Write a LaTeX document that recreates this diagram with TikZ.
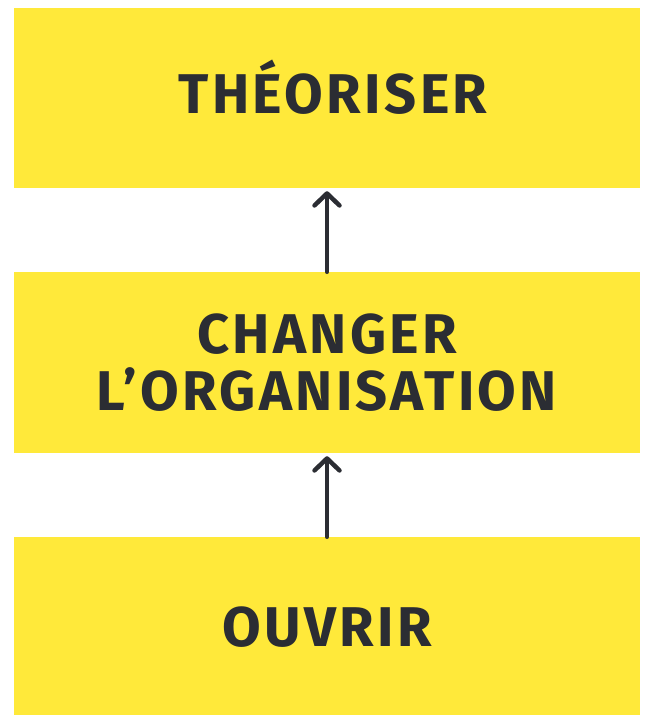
\documentclass[tikz,border=0pt]{standalone}
\usepackage{fontspec}
\setmainfont[LetterSpace=6]{Fira Sans}
\usepackage{tikz}
\usetikzlibrary{arrows.meta}
\definecolor{boxyellow}{HTML}{FFE93A}
\definecolor{inkdark}{HTML}{2B2D33}

\begin{document}
\begin{tikzpicture}[x=1pt,y=-1pt,
    stage/.style={fill=boxyellow,minimum width=626pt,minimum height=180pt,
      inner sep=0pt},
    caption/.style={inner sep=0pt,text=inkdark,align=center,
      text height=38.5pt,text depth=0pt,
      font=\fontsize{56}{57}\selectfont\bfseries},
    uparrow/.style={draw=inkdark,line width=4.5pt,line cap=round,
      -{Straight Barb[length=12pt,width=25pt,line width=4.5pt,round]}}]
  \useasboundingbox (0,0) rectangle (645,715);
  % boxes
  \node[stage] (theo) at (327,98) {};
  \node[stage,minimum height=181pt] (chang) at (327,362.5) {};
  \node[stage,minimum height=178pt] (ouvr) at (327,626) {};
  % texts
  \node[caption] (theo-t) at (333,94) {THÉORISER};
  \node[caption] (chang-t) at (327,391) {CHANGER\\L’ORGANISATION};
  \node[caption] (ouvr-t) at (327,627) {OUVRIR};
  % arrows
  \draw[uparrow] (ouvr.north) -- ([yshift=-3pt]chang.south);
  \draw[uparrow] (chang.north) -- ([yshift=-3pt]theo.south);
\end{tikzpicture}
\end{document}
